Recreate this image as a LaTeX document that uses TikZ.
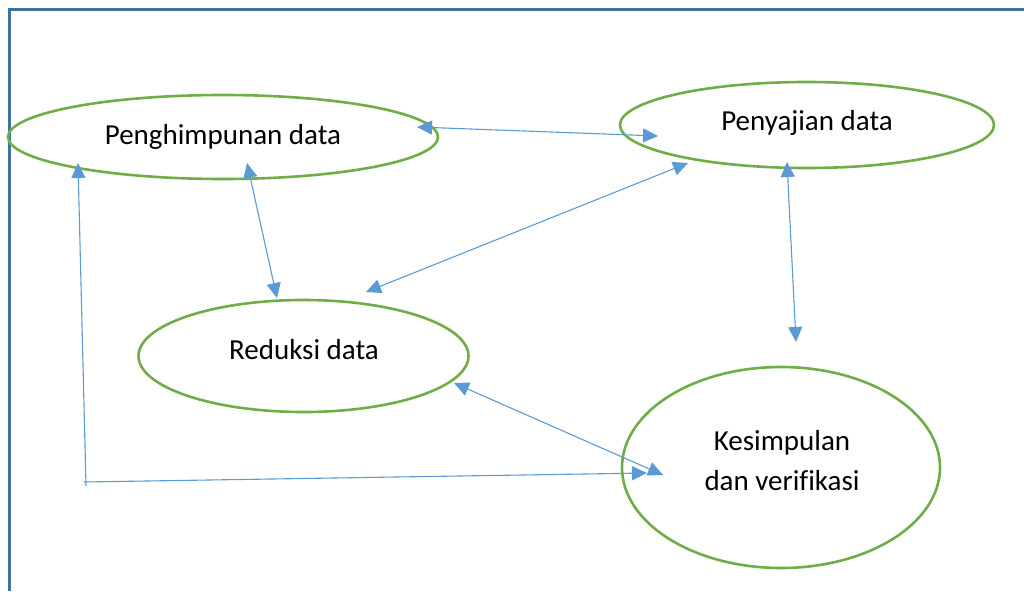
\documentclass[tikz,border=0pt]{standalone}
\usepackage{fontspec}
\setmainfont[Ligatures={NoCommon}]{Carlito}
\usetikzlibrary{shapes.geometric,arrows.meta}
\definecolor{frameblue}{HTML}{41719C}
\definecolor{ellgreen}{HTML}{70AD47}
\definecolor{arrblue}{HTML}{5B9BD5}
\tikzset{
  ell/.style={draw=ellgreen,line width=2.6pt,ellipse,inner sep=0pt},
  lbl/.style={font=\fontsize{29}{40}\selectfont,align=center,inner sep=0pt},
  conn/.style={draw=arrblue,line width=1.1pt,{Triangle[length=15pt,width=14pt]}-{Triangle[length=15pt,width=14pt]}},
  conn1/.style={draw=arrblue,line width=1.1pt,-{Triangle[length=15pt,width=14pt]}},
}
\begin{document}
\begin{tikzpicture}[x=1pt,y=-1pt]
\useasboundingbox (0,0) rectangle (1024,591);
\fill[white] (0,0) rectangle (1024,591);
\draw[frameblue,line width=3pt] (9.5,591) -- (9.5,9.5) -- (1024,9.5);

\node[ell,minimum width=430pt,minimum height=84pt] (pengh) at (223,137) {};
\node[ell,minimum width=374pt,minimum height=86pt] (penyaj) at (807,125) {};
\node[ell,minimum width=330pt,minimum height=112pt] (reduksi) at (303.5,356) {};
\node[ell,minimum width=318pt,minimum height=201pt] (kesimp) at (781,467.5) {};

\node[lbl] (t1) at (223,137) {Penghimpunan data};
\node[lbl] (t2) at (807,123) {Penyajian data};
\node[lbl] (t3) at (304,350) {Reduksi data};
\node[lbl] (t4) at (782,461) {Kesimpulan\\dan verifikasi};

\coordinate (a1) at (417,127);
\coordinate (b1) at (658,136);
\coordinate (a2) at (247,163);
\coordinate (b2) at (277,298);
\coordinate (a3) at (688,163);
\coordinate (b3) at (366,292);
\coordinate (a4) at (787,162);
\coordinate (b4) at (796,342);
\coordinate (a5) at (454,383);
\coordinate (b5) at (663,475);
\coordinate (c0) at (78,163);
\coordinate (c1) at (86,486);
\coordinate (c2) at (84,482);
\coordinate (c3) at (647,473);

\draw[conn] (a1) -- (b1);
\draw[conn] (a2) -- (b2);
\draw[conn] (a3) -- (b3);
\draw[conn] (a4) -- (b4);
\draw[conn] (a5) -- (b5);
\draw[conn1] (c1) -- (c0);
\draw[conn1] (c2) -- (c3);
\end{tikzpicture}
\end{document}
